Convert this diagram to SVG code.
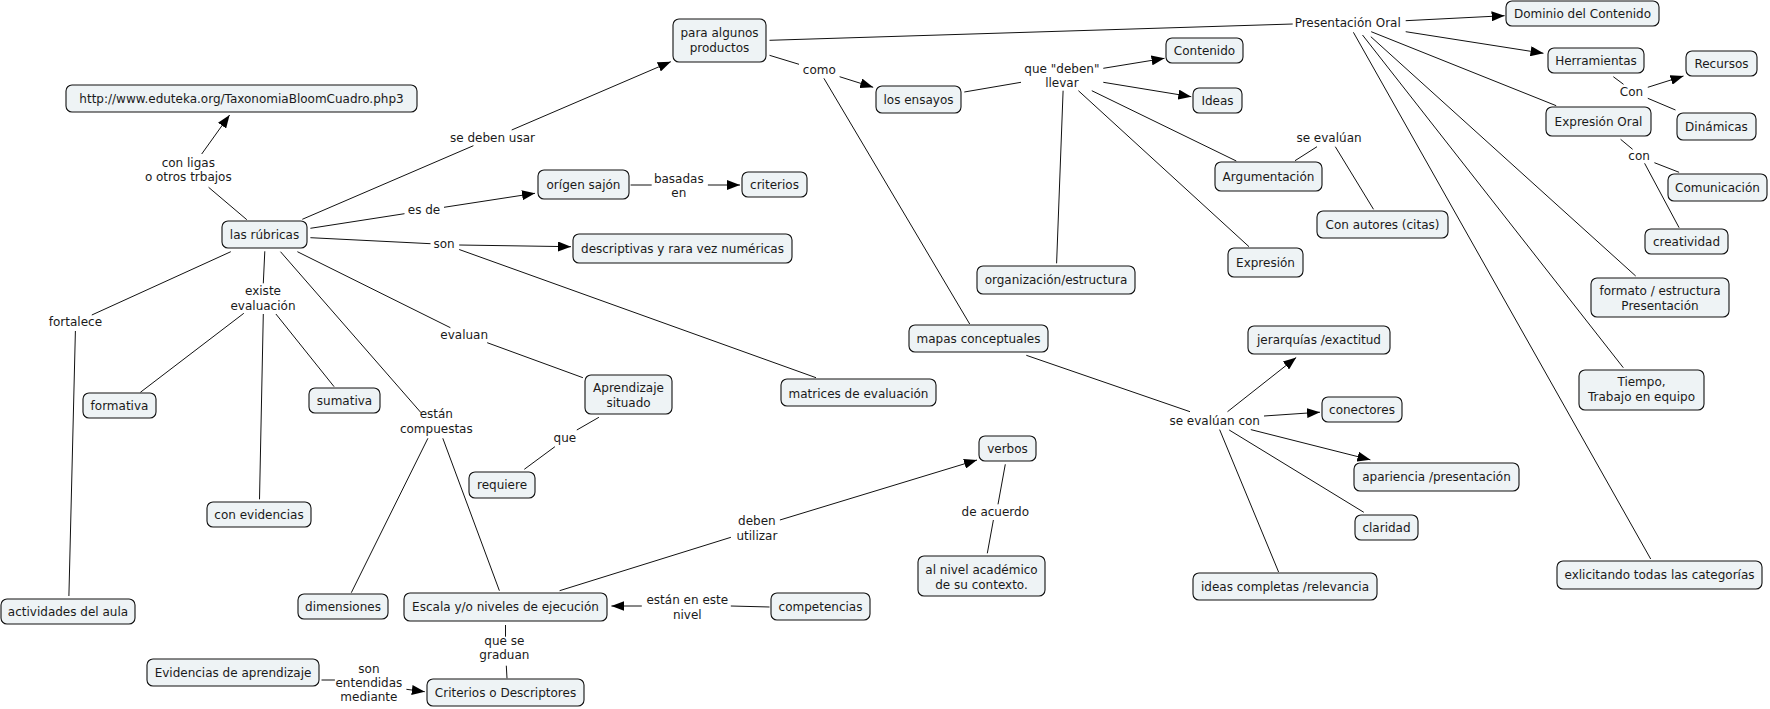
<svg xmlns="http://www.w3.org/2000/svg" width="1770" height="709" viewBox="0 0 1770 709">
<style>
.n rect{fill:#eef3f5;stroke:#111;stroke-width:1.1}
text{font-family:"DejaVu Sans","Liberation Sans",sans-serif;font-size:12px;fill:#1a1a1a;text-anchor:middle}
.c line{stroke:#111;stroke-width:1}
.c line.a{marker-end:url(#ah)}
</style>
<defs>
<marker id="ah" markerUnits="userSpaceOnUse" markerWidth="13" markerHeight="10" refX="13" refY="5" orient="auto">
<path d="M0,0 L13,5 L0,10 z" fill="#000"/>
</marker>
</defs>
<rect width="1770" height="709" fill="#fff"/>
<g class="c" id="connectors">
<line x1="246.8" y1="219.7" x2="208.6" y2="187.3"/>
<line class="a" x1="201.7" y1="154" x2="229.6" y2="115"/>
<line x1="302.3" y1="219.3" x2="473.4" y2="145.7"/>
<line class="a" x1="511.7" y1="130" x2="670.8" y2="61.7"/>
<line x1="310.4" y1="228.3" x2="404.5" y2="213.7"/>
<line class="a" x1="444" y1="207.3" x2="535" y2="193.3"/>
<line x1="630.6" y1="185" x2="651.7" y2="185"/>
<line class="a" x1="707.9" y1="185" x2="740" y2="185"/>
<line x1="310.4" y1="237.7" x2="430.5" y2="243.7"/>
<line class="a" x1="459.2" y1="245" x2="571" y2="246.7"/>
<line x1="459.2" y1="249.5" x2="816" y2="377.7"/>
<line x1="264.8" y1="251.3" x2="263.3" y2="283.3"/>
<line x1="243.8" y1="313.3" x2="140.4" y2="392.3"/>
<line x1="263.3" y1="314" x2="259.5" y2="499.3"/>
<line x1="275.9" y1="314" x2="334.1" y2="386.7"/>
<line x1="230.8" y1="251.7" x2="91.8" y2="315"/>
<line x1="75.4" y1="331" x2="68.9" y2="596"/>
<line x1="280.5" y1="251.7" x2="421" y2="412.7"/>
<line x1="427.9" y1="438.3" x2="351.3" y2="592.7"/>
<line x1="442.8" y1="438.3" x2="499.4" y2="590.7"/>
<line x1="297.4" y1="251.7" x2="450.4" y2="327.7"/>
<line x1="487.2" y1="342.7" x2="582.9" y2="377.7"/>
<line x1="598.9" y1="417.3" x2="576.8" y2="430"/>
<line x1="554.9" y1="446.7" x2="524.3" y2="469.3"/>
<line x1="505.5" y1="625" x2="505.5" y2="636.7"/>
<line x1="506.3" y1="665.7" x2="507" y2="678.3"/>
<line x1="321.5" y1="680" x2="334.9" y2="680"/>
<line class="a" x1="406.4" y1="689.3" x2="424.8" y2="691.7"/>
<line x1="769.5" y1="607" x2="730.8" y2="606"/>
<line class="a" x1="641.8" y1="606" x2="611.4" y2="606"/>
<line x1="559.6" y1="590.7" x2="730.9" y2="537.3"/>
<line class="a" x1="779.9" y1="520" x2="977" y2="460"/>
<line x1="1005.3" y1="464.3" x2="998" y2="504.3"/>
<line x1="993.4" y1="520" x2="987.3" y2="553.3"/>
<line x1="769.5" y1="55.3" x2="799" y2="64.3"/>
<line class="a" x1="839.6" y1="76.7" x2="873.2" y2="87.3"/>
<line x1="823.9" y1="78.3" x2="969.7" y2="324"/>
<line x1="964.3" y1="92" x2="1021" y2="82.3"/>
<line class="a" x1="1103.3" y1="68.3" x2="1164.5" y2="58.3"/>
<line class="a" x1="1103.3" y1="82.3" x2="1191.3" y2="96.7"/>
<line x1="1091.8" y1="90.7" x2="1236.3" y2="161"/>
<line x1="1078.4" y1="90.7" x2="1249" y2="246.7"/>
<line x1="1063.1" y1="90.7" x2="1056.6" y2="263.3"/>
<line x1="1295" y1="160.7" x2="1317" y2="146.7"/>
<line x1="1335.3" y1="146.7" x2="1373.5" y2="209.3"/>
<line x1="769.5" y1="40.3" x2="1292.7" y2="24"/>
<line class="a" x1="1405.7" y1="20.7" x2="1504.6" y2="15.7"/>
<line class="a" x1="1405.7" y1="31.7" x2="1543.5" y2="53.3"/>
<line x1="1371.2" y1="31.7" x2="1556.2" y2="105.7"/>
<line x1="1370.8" y1="36.7" x2="1635.7" y2="276"/>
<line x1="1362.5" y1="35" x2="1623.3" y2="367.7"/>
<line x1="1353.4" y1="32.3" x2="1650.7" y2="559"/>
<line x1="1613.3" y1="76.7" x2="1623.5" y2="84.3"/>
<line class="a" x1="1647.8" y1="87.3" x2="1683.5" y2="76"/>
<line x1="1647.8" y1="98.3" x2="1675.5" y2="110"/>
<line x1="1620.6" y1="139.3" x2="1632.6" y2="149.3"/>
<line x1="1654.4" y1="162.7" x2="1679.1" y2="172.3"/>
<line x1="1644.6" y1="163.3" x2="1679.1" y2="227.7"/>
<line x1="1026.3" y1="355.3" x2="1190" y2="411.7"/>
<line class="a" x1="1227.5" y1="411.7" x2="1296.2" y2="357.5"/>
<line class="a" x1="1264" y1="416" x2="1320" y2="412.2"/>
<line class="a" x1="1250.8" y1="429.6" x2="1370.4" y2="459.8"/>
<line x1="1229.2" y1="430" x2="1363.8" y2="512.3"/>
<line x1="1219.6" y1="429.6" x2="1278.6" y2="572"/>
</g>
<g id="labels">
<text x="188.3" y="166.5">con ligas</text>
<text x="188.3" y="181">o otros trbajos</text>
<text x="492.5" y="142">se deben usar</text>
<text x="424" y="214.2">es de</text>
<text x="444" y="248.2">son</text>
<text x="263" y="295.2">existe</text>
<text x="263" y="309.5">evaluación</text>
<text x="75.4" y="326.2">fortalece</text>
<text x="464.2" y="338.5">evaluan</text>
<text x="436.3" y="418">están</text>
<text x="436.3" y="432.5">compuestas</text>
<text x="564.9" y="442">que</text>
<text x="504.4" y="645">que se</text>
<text x="504.4" y="659.2">graduan</text>
<text x="368.9" y="672.5">son</text>
<text x="368.9" y="687">entendidas</text>
<text x="368.9" y="701">mediante</text>
<text x="687.3" y="604.2">están en este</text>
<text x="687.3" y="618.5">nivel</text>
<text x="756.9" y="525">deben</text>
<text x="756.9" y="539.5">utilizar</text>
<text x="995.3" y="516">de acuerdo</text>
<text x="678.8" y="182.5">basadas</text>
<text x="678.8" y="197">en</text>
<text x="819.3" y="74.2">como</text>
<text x="1061.9" y="72.5">que "deben"</text>
<text x="1061.9" y="86.5">llevar</text>
<text x="1329" y="142">se evalúan</text>
<text x="1347.7" y="27">Presentación Oral</text>
<text x="1631.5" y="96">Con</text>
<text x="1639.1" y="160.2">con</text>
<text x="1214.7" y="425">se evalúan con</text>
</g>
<g class="n" id="n-url"><rect x="66" y="85" width="351" height="27" rx="6"/><text x="241.5" y="102.7">http://www.eduteka.org/TaxonomiaBloomCuadro.php3</text></g>
<g class="n" id="n-rubricas"><rect x="222" y="221" width="85" height="27" rx="6"/><text x="264.5" y="238.7">las rúbricas</text></g>
<g class="n" id="n-para"><rect x="673" y="19" width="93" height="43" rx="6"/><text x="719.5" y="37">para algunos</text><text x="719.5" y="51.5">productos</text></g>
<g class="n" id="n-origen"><rect x="538" y="170" width="91" height="29" rx="6"/><text x="583.5" y="189">orígen sajón</text></g>
<g class="n" id="n-criterios"><rect x="742" y="172" width="65" height="25" rx="6"/><text x="774.5" y="189">criterios</text></g>
<g class="n" id="n-descriptivas"><rect x="573" y="234" width="219" height="29" rx="6"/><text x="682.5" y="253">descriptivas y rara vez numéricas</text></g>
<g class="n" id="n-ensayos"><rect x="876" y="86" width="85" height="27" rx="6"/><text x="918.5" y="104">los ensayos</text></g>
<g class="n" id="n-contenido"><rect x="1166" y="38" width="77" height="25" rx="6"/><text x="1204.5" y="55">Contenido</text></g>
<g class="n" id="n-ideas"><rect x="1193" y="88" width="49" height="25" rx="6"/><text x="1217.5" y="105">Ideas</text></g>
<g class="n" id="n-argumentacion"><rect x="1215" y="162" width="107" height="29" rx="6"/><text x="1268.5" y="180.8">Argumentación</text></g>
<g class="n" id="n-citas"><rect x="1317" y="211" width="131" height="27" rx="6"/><text x="1382.5" y="228.8">Con autores (citas)</text></g>
<g class="n" id="n-expresion"><rect x="1228" y="248" width="75" height="29" rx="6"/><text x="1265.5" y="266.8">Expresión</text></g>
<g class="n" id="n-organizacion"><rect x="977" y="266" width="158" height="28" rx="6"/><text x="1056" y="284.3">organización/estructura</text></g>
<g class="n" id="n-dominio"><rect x="1506" y="1" width="153" height="25" rx="6"/><text x="1582.5" y="17.8">Dominio del Contenido</text></g>
<g class="n" id="n-herramientas"><rect x="1548" y="48" width="96" height="25" rx="6"/><text x="1596" y="65">Herramientas</text></g>
<g class="n" id="n-recursos"><rect x="1686" y="51" width="71" height="25" rx="6"/><text x="1721.5" y="67.5">Recursos</text></g>
<g class="n" id="n-dinamicas"><rect x="1677" y="113" width="79" height="27" rx="6"/><text x="1716.5" y="131">Dinámicas</text></g>
<g class="n" id="n-expresion-oral"><rect x="1546" y="107" width="105" height="29" rx="6"/><text x="1598.5" y="126">Expresión Oral</text></g>
<g class="n" id="n-comunicacion"><rect x="1668" y="174" width="99" height="27" rx="6"/><text x="1717.5" y="191.8">Comunicación</text></g>
<g class="n" id="n-creatividad"><rect x="1645" y="229" width="83" height="25" rx="6"/><text x="1686.5" y="246">creatividad</text></g>
<g class="n" id="n-formato"><rect x="1591" y="278" width="138" height="39" rx="6"/><text x="1660" y="295">formato / estructura</text><text x="1660" y="310.3">Presentación</text></g>
<g class="n" id="n-tiempo"><rect x="1579" y="370" width="125" height="40" rx="6"/><text x="1641.5" y="386">Tiempo,</text><text x="1641.5" y="401">Trabajo en equipo</text></g>
<g class="n" id="n-exlicitando"><rect x="1557" y="561" width="205" height="28" rx="6"/><text x="1659.5" y="579">exlicitando todas las categorías</text></g>
<g class="n" id="n-jerarquias"><rect x="1248" y="326" width="142" height="28" rx="6"/><text x="1319" y="344.3">jerarquías /exactitud</text></g>
<g class="n" id="n-conectores"><rect x="1322" y="397" width="80" height="25" rx="6"/><text x="1362" y="413.5">conectores</text></g>
<g class="n" id="n-apariencia"><rect x="1354" y="463" width="165" height="28" rx="6"/><text x="1436.5" y="481.3">apariencia /presentación</text></g>
<g class="n" id="n-claridad"><rect x="1355" y="515" width="63" height="25" rx="6"/><text x="1386.5" y="531.5">claridad</text></g>
<g class="n" id="n-ideas-completas"><rect x="1193" y="573" width="184" height="27" rx="6"/><text x="1285" y="591">ideas completas /relevancia</text></g>
<g class="n" id="n-mapas"><rect x="909" y="325" width="139" height="27" rx="6"/><text x="978.5" y="343">mapas conceptuales</text></g>
<g class="n" id="n-matrices"><rect x="781" y="379" width="155" height="27" rx="6"/><text x="858.5" y="397.5">matrices de evaluación</text></g>
<g class="n" id="n-aprendizaje"><rect x="585" y="375" width="87" height="39" rx="6"/><text x="628.5" y="392">Aprendizaje</text><text x="628.5" y="406.5">situado</text></g>
<g class="n" id="n-requiere"><rect x="469" y="472" width="66" height="26" rx="6"/><text x="502" y="489.3">requiere</text></g>
<g class="n" id="n-formativa"><rect x="83" y="393" width="73" height="25" rx="6"/><text x="119.5" y="410">formativa</text></g>
<g class="n" id="n-sumativa"><rect x="309" y="388" width="71" height="25" rx="6"/><text x="344.5" y="405">sumativa</text></g>
<g class="n" id="n-con-evidencias"><rect x="207" y="502" width="104" height="25" rx="6"/><text x="259" y="518.5">con evidencias</text></g>
<g class="n" id="n-actividades"><rect x="1" y="599" width="134" height="25" rx="6"/><text x="68" y="615.5">actividades del aula</text></g>
<g class="n" id="n-dimensiones"><rect x="298" y="594" width="90" height="25" rx="6"/><text x="343" y="611">dimensiones</text></g>
<g class="n" id="n-escala"><rect x="404" y="593" width="203" height="28" rx="6"/><text x="505.5" y="611.3">Escala y/o niveles de ejecución</text></g>
<g class="n" id="n-criterios-desc"><rect x="427" y="679" width="157" height="27" rx="6"/><text x="505.5" y="697">Criterios o Descriptores</text></g>
<g class="n" id="n-evidencias"><rect x="147" y="659" width="172" height="27" rx="6"/><text x="233" y="677">Evidencias de aprendizaje</text></g>
<g class="n" id="n-competencias"><rect x="771" y="593" width="99" height="27" rx="6"/><text x="820.5" y="611">competencias</text></g>
<g class="n" id="n-verbos"><rect x="979" y="436" width="57" height="25" rx="6"/><text x="1007.5" y="453">verbos</text></g>
<g class="n" id="n-al-nivel"><rect x="918" y="556" width="127" height="40" rx="6"/><text x="981.5" y="573.5">al nivel académico</text><text x="981.5" y="588.5">de su contexto.</text></g>
</svg>
